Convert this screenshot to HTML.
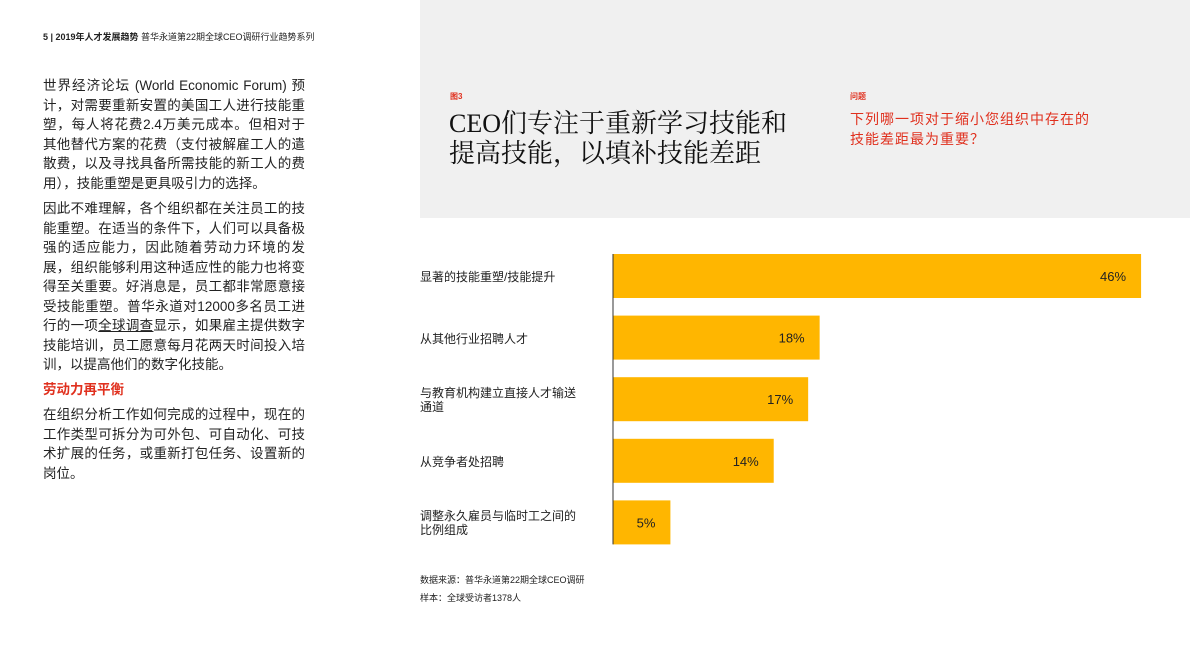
<!DOCTYPE html>
<html><head><meta charset="utf-8">
<style>
body{margin:0;width:1190px;height:670px;background:#fff;position:relative;overflow:hidden;font-family:"Liberation Sans","Noto Sans CJK SC",sans-serif;color:#222}
.abs{position:absolute}
.ln{position:absolute;left:43px;width:262px;font-size:13.5px;line-height:19px;white-space:nowrap;text-align:justify;text-align-last:justify}
.ln.l{text-align-last:left}
.cat{position:absolute;left:420px;font-size:12px;line-height:14px;color:#222}
</style></head><body>
<div class="abs" style="left:420px;top:0;width:770px;height:218px;background:#f0f0f0"></div>
<div class="abs" style="left:43px;top:30px;font-size:9px;font-weight:bold;white-space:nowrap">5 | 2019年人才发展趋势 <span style="font-weight:normal">普华永道第22期全球CEO调研行业趋势系列</span></div>
<div>
<div class="ln" style="top:76px">世界经济论坛 (World Economic Forum) 预</div>
<div class="ln" style="top:95.5px">计，对需要重新安置的美国工人进行技能重</div>
<div class="ln" style="top:115px">塑，每人将花费2.4万美元成本。但相对于</div>
<div class="ln" style="top:134.5px">其他替代方案的花费（支付被解雇工人的遣</div>
<div class="ln" style="top:154px">散费，以及寻找具备所需技能的新工人的费</div>
<div class="ln l" style="top:173.5px">用），技能重塑是更具吸引力的选择。</div>
<div class="ln" style="top:199px">因此不难理解，各个组织都在关注员工的技</div>
<div class="ln" style="top:218.5px">能重塑。在适当的条件下，人们可以具备极</div>
<div class="ln" style="top:238px">强的适应能力，因此随着劳动力环境的发</div>
<div class="ln" style="top:257.5px">展，组织能够利用这种适应性的能力也将变</div>
<div class="ln" style="top:277px">得至关重要。好消息是，员工都非常愿意接</div>
<div class="ln" style="top:296.5px">受技能重塑。普华永道对12000多名员工进</div>
<div class="ln" style="top:316px">行的一项<u>全球调查</u>显示，如果雇主提供数字</div>
<div class="ln" style="top:335.5px">技能培训，员工愿意每月花两天时间投入培</div>
<div class="ln l" style="top:355px">训，以提高他们的数字化技能。</div>
<div class="ln l" style="top:380px;color:#e0301e;font-weight:bold">劳动力再平衡</div>
<div class="ln" style="top:405px">在组织分析工作如何完成的过程中，现在的</div>
<div class="ln" style="top:424.5px">工作类型可拆分为可外包、可自动化、可技</div>
<div class="ln" style="top:444px">术扩展的任务，或重新打包任务、设置新的</div>
<div class="ln l" style="top:463.5px">岗位。</div>
</div>
<div class="abs" style="left:450px;top:91px;font-size:8px;font-weight:bold;color:#e0301e">图3</div>
<div class="abs" style="left:449px;top:109px;font-family:'Liberation Serif','Noto Serif CJK SC',serif;font-size:26px;line-height:30px;color:#111">CEO们专注于重新学习技能和<br>提高技能，以填补技能差距</div>
<div class="abs" style="left:850px;top:91px;font-size:8px;font-weight:bold;color:#e0301e">问题</div>
<div class="abs" style="left:850px;top:109px;font-size:14px;line-height:20px;color:#e0301e;letter-spacing:1px">下列哪一项对于缩小您组织中存在的<br>技能差距最为重要？</div>
<svg class="abs" style="left:0;top:0" width="1190" height="670" id="chart"></svg>
<div id="cats"></div>
<div class="abs" style="left:420px;top:571px;font-size:9px;line-height:18px">数据来源：普华永道第22期全球CEO调研<br>样本：全球受访者1378人</div>
<script>
const categories=["显著的技能重塑/技能提升","从其他行业招聘人才","与教育机构建立直接人才输送<br>通道","从竞争者处招聘","调整永久雇员与临时工之间的<br>比例组成"];
const values=[46,18,17,14,5];
const labels=["46%","18%","17%","14%","5%"];
const x0=613,scale=11.48,y0=254,pitch=61.6,bh=44;
const xs=v=>x0+v*scale, ys=i=>y0+i*pitch;
const svg=document.getElementById('chart'),NS='http://www.w3.org/2000/svg';
values.forEach((v,i)=>{
 const r=document.createElementNS(NS,'rect');
 
 
 r.setAttribute('x',x0);r.setAttribute('y',ys(i));r.setAttribute('width',xs(v)-x0);r.setAttribute('height',bh);r.setAttribute('fill','#ffb600');
 svg.appendChild(r);
 const t=document.createElementNS(NS,'text');
 
 
 t.setAttribute('x',xs(v)-15);t.setAttribute('y',ys(i)+bh/2+5);t.setAttribute('text-anchor','end');t.setAttribute('font-size','13');t.setAttribute('fill','#222');t.setAttribute('font-family','Liberation Sans, sans-serif');
 t.textContent=labels[i];svg.appendChild(t);
 const d=document.createElement('div');
 
 
 d.className='cat';d.innerHTML=categories[i];
 const lines=categories[i].split('<br>').length;
 d.style.top=(ys(i)+bh/2-lines*7+1)+'px';
 document.getElementById('cats').appendChild(d);
});
const ax=document.createElementNS(NS,'line');


ax.setAttribute('x1',x0);ax.setAttribute('x2',x0);ax.setAttribute('y1',y0);ax.setAttribute('y2',ys(values.length-1)+bh);ax.setAttribute('stroke','#333');ax.setAttribute('stroke-width','1');
svg.appendChild(ax);
</script>
</body></html>
